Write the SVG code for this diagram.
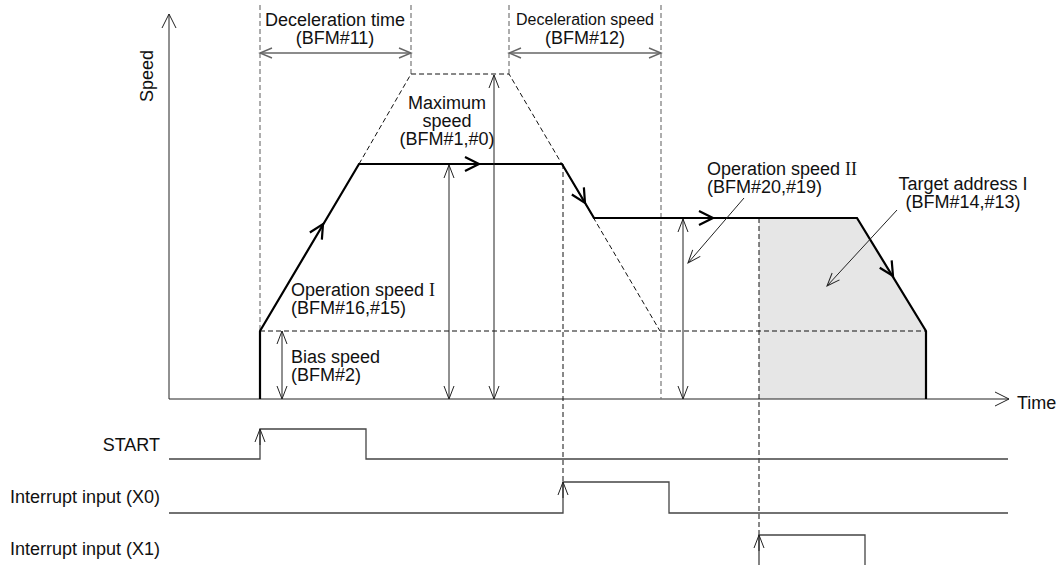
<svg xmlns="http://www.w3.org/2000/svg" width="1060" height="565" viewBox="0 0 1060 565">
<style>
text{font-family:"Liberation Sans",Arial,sans-serif;font-size:18px;fill:#111}
.sm{font-size:16px}
.ser{font-family:"Liberation Serif","Times New Roman",serif}
.thin{stroke:#222;stroke-width:1;fill:none}
.prof{stroke:#000;stroke-width:2.2;fill:none;stroke-linejoin:miter}
.dash{stroke:#111;stroke-width:1;stroke-dasharray:5 3;fill:none}
.gdash{stroke:#777;stroke-width:1.2;stroke-dasharray:5 3;fill:none}
.sig{stroke:#444;stroke-width:1.3;fill:none}
.gray{stroke:#666;stroke-width:1.6;fill:none}
.chev{stroke:#000;stroke-width:2.2;fill:none}
</style>
<defs>
<marker id="ax" viewBox="-16 -9 18 18" markerWidth="18" markerHeight="18" refX="0" refY="0" markerUnits="userSpaceOnUse" orient="auto">
<path d="M-14,-7 L0,0 L-14,7" fill="none" stroke="#222" stroke-width="1"/>
</marker>
<marker id="ah" viewBox="-16 -8 18 16" markerWidth="18" markerHeight="16" refX="0" refY="0" markerUnits="userSpaceOnUse" orient="auto-start-reverse">
<path d="M-13,-5 L0,0 L-13,5" fill="none" stroke="#222" stroke-width="1"/>
</marker>
<marker id="ahg" viewBox="-16 -8 18 16" markerWidth="18" markerHeight="16" refX="0" refY="0" markerUnits="userSpaceOnUse" orient="auto-start-reverse">
<path d="M-12,-5 L0,0 L-12,5" fill="none" stroke="#666" stroke-width="1.4"/>
</marker>
<path id="chv" d="M-14,-7 L0,0 L-14,7"/>
</defs>

<g id="fill-area">
<polygon points="759,218 857,218 926,331 926,399 759,399" fill="#e6e6e6"/>
</g>

<g id="axes">
<line class="thin" x1="169" y1="399" x2="169" y2="14" marker-end="url(#ax)"/>
<line class="thin" x1="169" y1="399" x2="1009" y2="399" marker-end="url(#ax)"/>
<text transform="translate(153,76) rotate(-90)" text-anchor="middle">Speed</text>
<text x="1017" y="409">Time</text>
</g>

<g id="guides">
<line class="gdash" x1="260" y1="5" x2="260" y2="331"/>
<line class="gdash" x1="411" y1="5" x2="411" y2="74"/>
<line class="gdash" x1="509" y1="5" x2="509" y2="74"/>
<line class="gdash" x1="661" y1="5" x2="661" y2="399"/>
<polyline class="dash" points="359,164 411,74 509,74 660,331"/>
<line class="dash" x1="260" y1="331" x2="926" y2="331"/>
<line class="dash" x1="563" y1="164" x2="563" y2="482"/>
<line class="dash" x1="759" y1="218" x2="759" y2="535"/>
</g>

<g id="profile">
<polyline class="prof" points="260,399 260,331 359,164 562,164 594,218 857,218 926,331 926,399"/>
<use href="#chv" class="chev" transform="translate(323,224) rotate(-59.3)"/>
<use href="#chv" class="chev" transform="translate(479,164)"/>
<use href="#chv" class="chev" transform="translate(585,203) rotate(59.3)"/>
<use href="#chv" class="chev" transform="translate(713,218)"/>
<use href="#chv" class="chev" transform="translate(893,276) rotate(58.6)"/>
</g>

<g id="connectors">
<line class="gray" x1="260" y1="53" x2="411" y2="53" marker-start="url(#ahg)" marker-end="url(#ahg)"/>
<line class="gray" x1="509" y1="53" x2="661" y2="53" marker-start="url(#ahg)" marker-end="url(#ahg)"/>
<line class="thin" x1="282" y1="331" x2="282" y2="399" marker-start="url(#ah)" marker-end="url(#ah)"/>
<line class="thin" x1="449" y1="165" x2="449" y2="399" marker-start="url(#ah)" marker-end="url(#ah)"/>
<line class="thin" x1="494" y1="75" x2="494" y2="399" marker-start="url(#ah)" marker-end="url(#ah)"/>
<line class="thin" x1="683" y1="219" x2="683" y2="399" marker-start="url(#ah)" marker-end="url(#ah)"/>
<line class="thin" x1="744" y1="198" x2="688" y2="263" marker-end="url(#ah)"/>
<line class="thin" x1="897" y1="210" x2="827" y2="286" marker-end="url(#ah)"/>
</g>

<g id="labels">
<text x="335" y="26" text-anchor="middle">Deceleration time</text>
<text x="335" y="44" text-anchor="middle">(BFM#11)</text>
<text class="sm" x="585" y="25" text-anchor="middle">Deceleration speed</text>
<text x="585" y="44" text-anchor="middle">(BFM#12)</text>
<text x="447" y="109" text-anchor="middle">Maximum</text>
<text x="447" y="127" text-anchor="middle">speed</text>
<text x="447" y="145" text-anchor="middle">(BFM#1,#0)</text>
<text x="291" y="296">Operation speed <tspan class="ser">I</tspan></text>
<text x="291" y="314">(BFM#16,#15)</text>
<text x="291" y="363">Bias speed</text>
<text x="291" y="381">(BFM#2)</text>
<text x="707" y="175">Operation speed <tspan class="ser">II</tspan></text>
<text x="707" y="193">(BFM#20,#19)</text>
<text x="963" y="190" text-anchor="middle">Target address I</text>
<text x="963" y="208" text-anchor="middle">(BFM#14,#13)</text>
</g>

<g id="signals">
<text x="160" y="451" text-anchor="end">START</text>
<text x="160" y="503" text-anchor="end">Interrupt input (X0)</text>
<text x="160" y="555" text-anchor="end">Interrupt input (X1)</text>
<polyline class="sig" points="169,459 260,459 260,429 366,429 366,459 1008,459"/>
<polyline class="sig" points="169,513 563,513 563,482 669,482 669,513 1008,513"/>
<polyline class="sig" points="759,566 759,535 865,535 865,566"/>
<line class="thin" x1="260" y1="445" x2="260" y2="429" marker-end="url(#ah)"/>
<line class="thin" x1="563" y1="498" x2="563" y2="482" marker-end="url(#ah)"/>
<line class="thin" x1="759" y1="551" x2="759" y2="535" marker-end="url(#ah)"/>
</g>
</svg>
